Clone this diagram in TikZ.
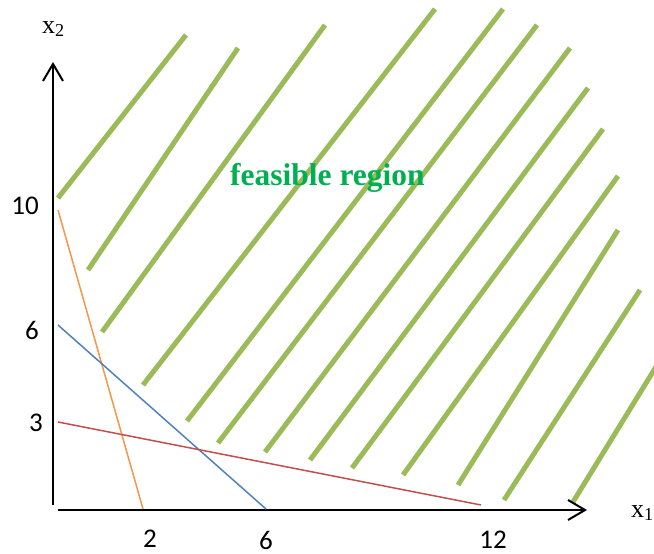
\documentclass[tikz,border=0pt]{standalone}
\usepackage{fontspec}
\setmainfont{Liberation Serif}
\newfontfamily\tickfont{Carlito}
\usetikzlibrary{arrows.meta}
\definecolor{hatch}{HTML}{9BBB59}
\definecolor{regiontext}{HTML}{00B050}
\definecolor{consone}{HTML}{F79646}
\definecolor{constwo}{HTML}{4F81BD}
\definecolor{consthree}{HTML}{C0504D}

\begin{document}
\begin{tikzpicture}[x=1pt, y=-1pt,
      axis/.style={line width=2pt, -{Straight Barb[length=17pt, width=20pt]}},
      hatchline/.style={hatch, line width=5pt},
      cons/.style={line width=1.5pt},
      tick/.style={font=\tickfont\fontsize{27}{27}\selectfont, inner sep=0pt},
      axlabel/.style={font=\fontsize{26}{26}\selectfont, inner sep=0pt, anchor=base west},
    ]
    \useasboundingbox (0,0) rectangle (654,554);

    % hatching of the feasible region
    \foreach \ax/\ay/\bx/\by in {58/198/186/35, 88/270/238/48, 102/332/325/25,
        143/385/435/9, 187/421/503/9, 218/443/537/25, 265/452/570/48,
        310/460/588/88, 352/468/603/129, 403/475/618/176, 458/485/618/230,
        504/500/640/290, 573/502/670/344}
      \draw[hatchline] (\ax,\ay) -- (\bx,\by);

    \node[font=\bfseries\fontsize{31.5}{31.5}\selectfont, text=regiontext,
      inner sep=0pt, anchor=base west] (region) at (230,185) {feasible region};

    % axes
    \coordinate (yfoot) at (53,505);
    \coordinate (ytip) at (53,62);
    \coordinate (xfoot) at (58,510);
    \coordinate (xtip) at (587,510);
    \draw[axis] (yfoot) -- (ytip);
    \draw[axis] (xfoot) -- (xtip);
    \node[axlabel] (xtwo) at (42,33) {x\textsubscript{2}};
    \node[axlabel] (xone) at (631,517) {x\textsubscript{1}};

    % constraints
    \coordinate (aone) at (58,210);
    \coordinate (bone) at (143,509);
    \coordinate (atwo) at (58,325);
    \coordinate (btwo) at (266,509);
    \coordinate (athree) at (58,422);
    \coordinate (bthree) at (481,505);
    \draw[cons, consone] (aone) -- (bone);
    \draw[cons, constwo] (atwo) -- (btwo);
    \draw[cons, consthree] (athree) -- (bthree);

    % ticks
    \node[tick] (yten) at (25,206) {10};
    \node[tick] (ysix) at (32,330) {6};
    \node[tick] (ythree) at (36,423) {3};
    \node[tick] (xtwotick) at (150,539) {2};
    \node[tick] (xsix) at (266,540) {6};
    \node[tick] (xtwelve) at (493,540) {12};
  \end{tikzpicture}
\end{document}
